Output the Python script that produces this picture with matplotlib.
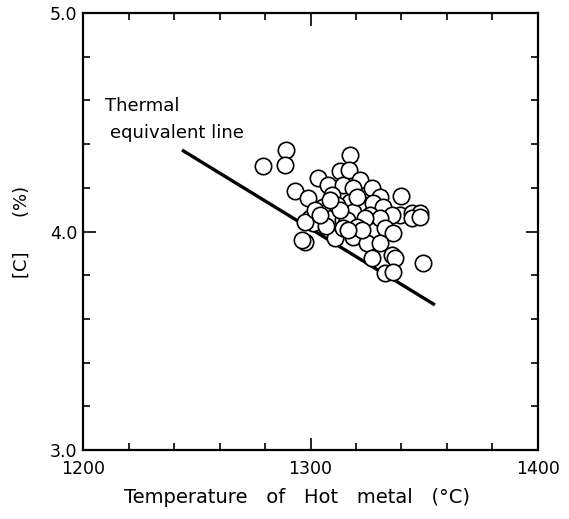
import matplotlib
matplotlib.use("Agg")
import matplotlib.pyplot as plt
from matplotlib.ticker import MultipleLocator

# Data: hot metal temperature (deg C) and carbon content (%)
temperature = [1279.1, 1289.2, 1288.8, 1293.2, 1298.9, 1303.3, 1307.7, 1313.0, 1314.3, 1317.4,
               1316.9, 1305.5, 1309.5, 1299.8, 1321.8, 1327.0, 1330.5, 1339.8, 1339.3, 1344.6,
               1348.1, 1318.7, 1317.4, 1323.1, 1327.5, 1331.9, 1335.8, 1318.7, 1326.2, 1330.5,
               1297.6, 1296.3, 1301.1, 1310.8, 1309.5, 1314.3, 1316.0, 1323.9, 1332.7, 1336.3,
               1318.7, 1324.8, 1330.5, 1327.0, 1335.8, 1337.1, 1332.7, 1336.3, 1349.5, 1314.3,
               1320.4, 1344.6, 1348.1, 1297.6, 1302.0, 1306.8, 1311.6, 1320.4, 1313.0, 1322.6,
               1316.5, 1308.6, 1304.2]
carbon = [4.300, 4.373, 4.304, 4.185, 4.153, 4.245, 4.213, 4.277, 4.213, 4.350,
          4.281, 4.112, 4.167, 4.062, 4.236, 4.199, 4.158, 4.162, 4.075, 4.085,
          4.085, 4.199, 4.135, 4.121, 4.130, 4.112, 4.076, 4.089, 4.076, 4.062,
          3.952, 3.961, 4.039, 3.970, 4.062, 4.053, 4.053, 4.062, 4.016, 3.993,
          3.975, 3.947, 3.947, 3.879, 3.892, 3.879, 3.810, 3.815, 3.856, 4.016,
          4.021, 4.062, 4.066, 4.043, 4.098, 4.025, 4.121, 4.158, 4.098, 4.007,
          4.007, 4.144, 4.076]

# Thermal equivalent line end points
line_temp = [1243.5, 1354.7]
line_carbon = [4.373, 3.664]

x_ticks = [1200, 1300, 1400]
y_ticks = [3.0, 4.0, 5.0]

plt.rcParams['font.family'] = ['DejaVu Sans']

fig = plt.figure(figsize=(5.69, 5.19), dpi=100)
ax = fig.add_axes([0.1459, 0.1329, 0.7996, 0.842])

ax.plot(line_temp, line_carbon, color='black', lw=2.4, solid_capstyle='butt', zorder=2)
ax.plot(temperature, carbon, linestyle='none', marker='o', ms=11.8,
        markerfacecolor='white', markeredgecolor='black', markeredgewidth=1.2, zorder=3)

ax.set_xlim(1200, 1400)
ax.set_ylim(3.0, 5.0)
ax.set_xticks(x_ticks)
ax.set_yticks(y_ticks)
ax.set_xticklabels([str(t) for t in x_ticks])
ax.set_yticklabels([f"{t:.1f}" for t in y_ticks])
ax.xaxis.set_minor_locator(MultipleLocator(20))
ax.yaxis.set_minor_locator(MultipleLocator(0.2))

ax.tick_params(which='both', direction='in', top=True, right=True, width=1.2, colors='black')
ax.tick_params(which='major', length=9, labelsize=12.5)
ax.tick_params(which='minor', length=5)
ax.tick_params(axis='x', which='major', pad=7)
ax.tick_params(axis='y', which='major', pad=4)

for s in ax.spines.values():
    s.set_linewidth(1.6)

ax.set_xlabel("Temperature   of   Hot   metal   (\u00b0C)", fontsize=14)
ax.xaxis.set_label_coords(0.47, -0.088)
ax.set_ylabel("[C]      (%)", fontsize=13, labelpad=14)

ax.text(1209.7, 4.574, "Thermal", fontsize=13, ha='left', va='center')
ax.text(1211.9, 4.451, "equivalent line", fontsize=13, ha='left', va='center')

fig.savefig("out.png", dpi=100)
